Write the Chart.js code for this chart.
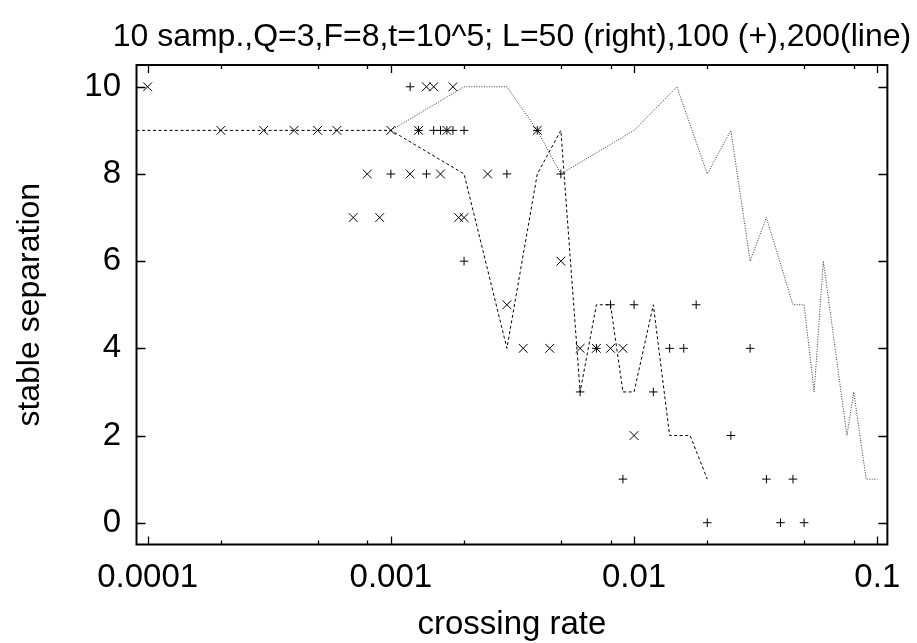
<!DOCTYPE html>
<html>
<head>
<meta charset="utf-8">
<script src="https://cdn.jsdelivr.net/npm/chart.js@4.4.0/dist/chart.umd.min.js"></script>
<style>
  html, body { margin: 0; padding: 0; background: #fff; }
  #wrap { width: 917px; height: 643px; }
</style>
</head>
<body>
<div id="wrap"><canvas id="c" width="917" height="643"></canvas></div>
<script>
// L=100 runs, drawn as "+"
const plusX = [0.001, 0.0012, 0.0013, 0.0015, 0.0016, 0.0017, 0.0018, 0.002, 0.004, 0.0014, 0.003, 0.005,
               0.002, 0.008, 0.01, 0.018, 0.007, 0.014, 0.016, 0.03, 0.006, 0.012, 0.025,
               0.009, 0.035, 0.045, 0.02, 0.04, 0.05];
const plusY = [8, 10, 9, 9, 9, 9, 9, 9, 9, 8, 8, 8,
               6, 5, 5, 5, 4, 4, 4, 4, 3, 3, 2,
               1, 1, 1, 0, 0, 0];

// second point set, drawn as "x"
const crossX = [0.0001, 0.0002, 0.0003, 0.0004, 0.0005, 0.0006, 0.001, 0.0008, 0.0007, 0.0009,
                0.0014, 0.0015, 0.0018, 0.0013, 0.0017, 0.004, 0.0012, 0.0016, 0.0025, 0.0019, 0.002,
                0.005, 0.003, 0.0035, 0.0045, 0.006, 0.007, 0.008, 0.009, 0.01];
const crossY = [10, 9, 9, 9, 9, 9, 9, 8, 7, 7,
                10, 10, 10, 9, 9, 9, 8, 8, 8, 7, 7,
                6, 5, 4, 4, 4, 4, 4, 4, 2];

// L=200 (dashed line)
const dashX = [0.00009, 0.0002, 0.0003, 0.0004, 0.0005, 0.0006, 0.001, 0.002, 0.003, 0.004, 0.005,
               0.006, 0.007, 0.008, 0.009, 0.01, 0.012, 0.014, 0.017, 0.02];
const dashY = [9, 9, 9, 9, 9, 9, 9, 8, 4, 8, 9, 3, 5, 5, 3, 3, 5, 2, 2, 1];

// L=50 (dotted line, right)
const dotX = [0.001, 0.002, 0.003, 0.004, 0.005, 0.01, 0.015, 0.02, 0.025, 0.03, 0.035, 0.045,
              0.05, 0.055, 0.06, 0.075, 0.08, 0.09, 0.1];
const dotY = [9, 10, 10, 9, 8, 9, 10, 8, 9, 6, 7, 5, 5, 3, 6, 2, 3, 1, 1];

// tick values
const xMajor = [0.0001, 0.001, 0.01, 0.1];
const xMinor = [0.0002, 0.0005, 0.0008, 0.002, 0.005, 0.008, 0.02, 0.05, 0.08];
const yMajor = [0, 2, 4, 6, 8, 10];

const titleText = '10 samp.,Q=3,F=8,t=10^5; L=50 (right),100 (+),200(line)';

const pts = (xs, ys) => xs.map((v, i) => ({ x: v, y: ys[i] }));
const family = '"Liberation Sans", Arial, sans-serif';

// gnuplot-style frame with mirrored inward ticks, title centred over the plot box
const framePlugin = {
    id: 'frame',
    afterDatasetsDraw(chart) {
        const { ctx, chartArea: a, scales: { x, y } } = chart;
        ctx.save();
        ctx.strokeStyle = '#000';
        ctx.lineWidth = 1.3;
        ctx.beginPath();
        const xt = (v, len) => {
            const px = Math.round(x.getPixelForValue(v)) + 0.5;
            ctx.moveTo(px, a.bottom); ctx.lineTo(px, a.bottom - len);
            ctx.moveTo(px, a.top); ctx.lineTo(px, a.top + len);
        };
        xMajor.forEach(v => xt(v, 8));
        xMinor.forEach(v => xt(v, 4));
        yMajor.forEach(v => {
            const py = Math.round(y.getPixelForValue(v)) + 0.5;
            ctx.moveTo(a.left, py); ctx.lineTo(a.left + 9, py);
            ctx.moveTo(a.right, py); ctx.lineTo(a.right - 9, py);
        });
        ctx.stroke();
        ctx.lineWidth = 2;
        ctx.strokeRect(a.left, a.top, a.right - a.left, a.bottom - a.top);

        ctx.fillStyle = '#000';
        ctx.font = '32px ' + family;
        ctx.textAlign = 'center';
        ctx.textBaseline = 'middle';
        ctx.fillText(titleText, (a.left + a.right) / 2, 37);
        ctx.restore();
    }
};

const font = { family: family, size: 33, weight: 'normal', lineHeight: 1 };
const yTitleFont = { family: family, size: 32, weight: 'normal', lineHeight: 1 };
Chart.defaults.color = '#000';

new Chart(document.getElementById('c'), {
    type: 'scatter',
    data: {
        datasets: [
            {
                label: 'L=100',
                data: pts(plusX, plusY),
                pointStyle: 'cross',
                pointRadius: 4.3,
                borderColor: '#000',
                borderWidth: 1
            },
            {
                label: 'x',
                data: pts(crossX, crossY),
                pointStyle: 'crossRot',
                pointRadius: 6.2,
                borderColor: '#000',
                borderWidth: 1
            },
            {
                label: 'L=200',
                data: pts(dashX, dashY),
                showLine: true,
                pointRadius: 0,
                borderColor: '#000',
                borderWidth: 1,
                borderDash: [3, 2.5]
            },
            {
                label: 'L=50',
                data: pts(dotX, dotY),
                showLine: true,
                pointRadius: 0,
                borderColor: '#333',
                borderWidth: 1,
                borderDash: [1, 1.5]
            }
        ]
    },
    options: {
        responsive: false,
        animation: false,
        devicePixelRatio: 1,
        layout: { padding: { left: 0, right: 19.5, top: 65, bottom: 0 } },
        plugins: {
            legend: { display: false },
            tooltip: { enabled: false },
            title: { display: false }
        },
        scales: {
            x: {
                type: 'logarithmic',
                min: 0.00009,
                max: 0.11,
                grid: { display: false, drawTicks: false },
                border: { display: false },
                afterBuildTicks: s => { s.ticks = xMajor.map(v => ({ value: v })); },
                afterFit: s => { s.height = 98.5; },
                ticks: {
                    font: font,
                    padding: 16.5,
                    maxRotation: 0,
                    autoSkip: false,
                    callback: v => String(v)
                },
                title: {
                    display: true,
                    text: 'crossing rate',
                    font: font,
                    padding: { top: 0, bottom: 1.5 }
                }
            },
            y: {
                min: -0.5,
                max: 10.5,
                grid: { display: false, drawTicks: false },
                border: { display: false },
                afterBuildTicks: s => { s.ticks = yMajor.map(v => ({ value: v })); },
                afterFit: s => { s.width = 136.5; },
                ticks: {
                    font: font,
                    padding: 15.5,
                    callback: v => String(v)
                },
                title: {
                    display: true,
                    text: 'stable separation',
                    font: yTitleFont,
                    padding: { top: 14, bottom: 0 }
                }
            }
        }
    },
    plugins: [framePlugin]
});
</script>
</body>
</html>
